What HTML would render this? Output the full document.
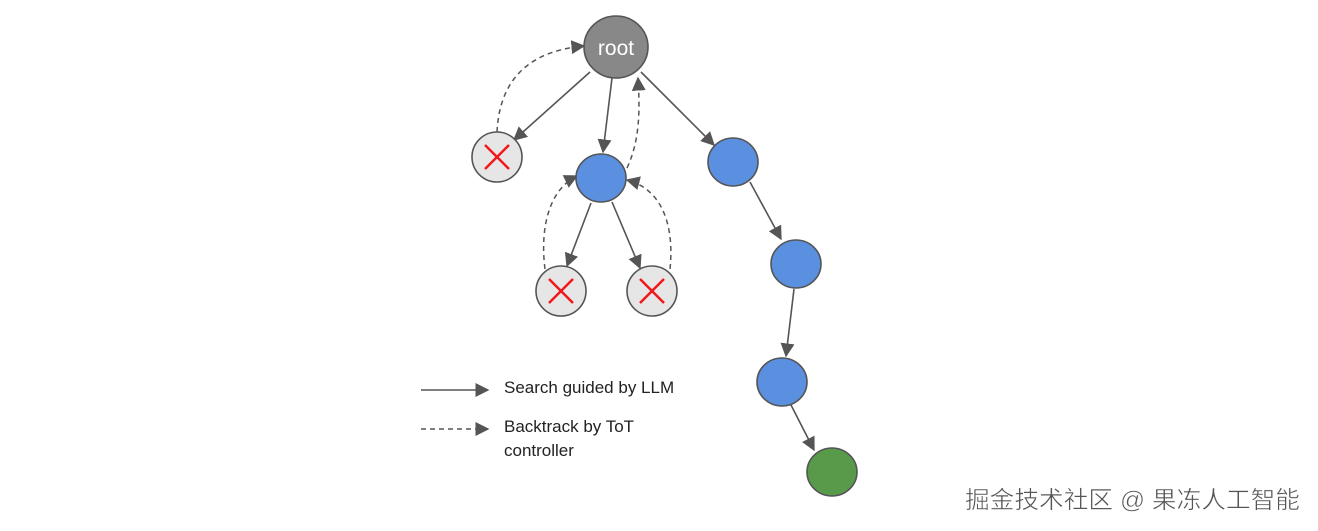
<!DOCTYPE html>
<html><head><meta charset="utf-8"><style>
html,body{margin:0;padding:0;background:#fff;width:1318px;height:531px;overflow:hidden}
svg{display:block}
</style></head><body>
<svg width="1318" height="531" viewBox="0 0 1318 531" xmlns="http://www.w3.org/2000/svg">
<defs>
<marker id="a" viewBox="0 0 10 10" refX="9" refY="5" markerWidth="14" markerHeight="14" markerUnits="userSpaceOnUse" orient="auto">
<path d="M0,0 L10,5 L0,10 z" fill="#555"/></marker>
</defs>
<g stroke="#555" stroke-width="1.6" fill="none" marker-end="url(#a)">
<line x1="590" y1="72" x2="514" y2="140"/>
<line x1="612" y1="78" x2="603" y2="152"/>
<line x1="641" y1="72" x2="714" y2="145"/>
<line x1="591" y1="203" x2="567" y2="266"/>
<line x1="612" y1="202" x2="640" y2="268"/>
<line x1="750" y1="182" x2="781" y2="239"/>
<line x1="794" y1="289" x2="786" y2="356"/>
<line x1="791" y1="405" x2="814" y2="450"/>
<line x1="421" y1="390" x2="488" y2="390"/>
</g>
<g stroke="#555" stroke-width="1.5" fill="none" stroke-dasharray="5,4" marker-end="url(#a)">
<path d="M497,132 C500,70 540,50 584,46"/>
<path d="M627,168 C640,140 640,110 638,78"/>
<path d="M545,269 C540,230 548,190 577,176"/>
<path d="M670,269 C674,230 665,190 627,180"/>
<line x1="421" y1="429" x2="488" y2="429"/>
</g>
<g stroke="#555" stroke-width="1.6">
<ellipse cx="616" cy="47" rx="32" ry="31" fill="#888"/>
<circle cx="497" cy="157" r="25" fill="#e6e6e6"/>
<circle cx="561" cy="291" r="25" fill="#e6e6e6"/>
<circle cx="652" cy="291" r="25" fill="#e6e6e6"/>
<ellipse cx="601" cy="178" rx="25" ry="24" fill="#5b8fe0"/>
<ellipse cx="733" cy="162" rx="25" ry="24" fill="#5b8fe0"/>
<ellipse cx="796" cy="264" rx="25" ry="24" fill="#5b8fe0"/>
<ellipse cx="782" cy="382" rx="25" ry="24" fill="#5b8fe0"/>
<ellipse cx="832" cy="472" rx="25" ry="24" fill="#58994a"/>
</g>
<g stroke="#f01818" stroke-width="2.5">
<path d="M485,145 L509,169 M509,145 L485,169"/>
<path d="M549,279 L573,303 M573,279 L549,303"/>
<path d="M640,279 L664,303 M664,279 L640,303"/>
</g>
<text x="616" y="55" text-anchor="middle" font-family="Liberation Sans, sans-serif" font-size="21" fill="#fff">root</text>
<g font-family="Liberation Sans, sans-serif" font-size="17" fill="#222">
<text x="504" y="393">Search guided by LLM</text>
<text x="504" y="432">Backtrack by ToT</text>
<text x="504" y="456">controller</text>
</g>
<text x="965" y="508" textLength="335" lengthAdjust="spacingAndGlyphs" font-family="Liberation Sans, 'Noto Sans CJK SC', sans-serif" font-size="24" fill="#555" stroke="#fff" stroke-width="0.5">掘金技术社区 @ 果冻人工智能</text>
</svg>
</body></html>
